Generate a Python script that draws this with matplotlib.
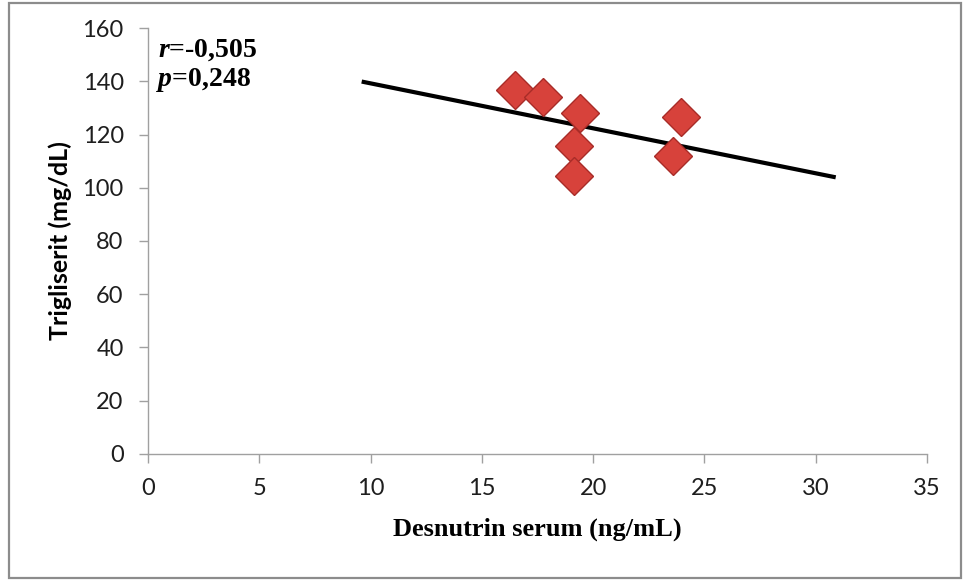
import numpy as np
import matplotlib
matplotlib.use("Agg")
import matplotlib.pyplot as plt
from matplotlib.patches import Rectangle

# Serum desnutrin vs triglyceride measurements
desnutrin = [16.5, 17.75, 19.4, 19.15, 19.15, 23.95, 23.6]
trigliserit = [136.7, 134.0, 128.0, 115.7, 104.4, 126.5, 111.8]
trend_range = [9.6, 30.9]

x_ticks = [0, 5, 10, 15, 20, 25, 30, 35]
y_ticks = [0, 20, 40, 60, 80, 100, 120, 140, 160]

plt.rcParams["mathtext.fontset"] = "custom"
plt.rcParams["mathtext.it"] = "Liberation Serif:italic:bold"
plt.rcParams["mathtext.rm"] = "Liberation Serif:bold"

fig = plt.figure(figsize=(9.65, 5.81), dpi=100)
ax = fig.add_axes([0.1534, 0.2186, 0.8072, 0.7332])

# outer chart border
fig.patches.append(Rectangle((0.009, 0.006), 0.987, 0.988, transform=fig.transFigure,
                             fill=False, edgecolor="#8c8c8c", linewidth=1.6))

# least-squares trend line
slope, intercept = np.polyfit(desnutrin, trigliserit, 1)
tx = np.array(trend_range)
ax.plot(tx, intercept + slope * tx, color="black", linewidth=3, zorder=2, solid_capstyle="butt")

ax.plot(desnutrin, trigliserit, linestyle="none", marker="D", markersize=19,
        markerfacecolor="#d7423b", markeredgecolor="#a82c28", markeredgewidth=1.0, zorder=3)

ax.set_xlim(0, 35)
ax.set_ylim(0, 160)
ax.set_xticks(x_ticks)
ax.set_yticks(y_ticks)

for side in ("top", "right"):
    ax.spines[side].set_visible(False)
for side in ("left", "bottom"):
    ax.spines[side].set_color("#a0a0a0")
    ax.spines[side].set_linewidth(1.0)

ax.tick_params(axis="both", direction="out", length=6.5, width=1.0, color="#a0a0a0",
               labelsize=17, labelcolor="#1e1e1e")
ax.tick_params(axis="x", pad=10.5)
ax.tick_params(axis="y", pad=11)
for lbl in ax.get_xticklabels() + ax.get_yticklabels():
    lbl.set_fontfamily("Lato")

ax.set_xlabel("Desnutrin serum (ng/mL)", fontfamily="Liberation Serif", fontweight="bold",
              fontsize=19)
ax.xaxis.set_label_coords(0.5, -0.15)
ax.set_ylabel("Trigliserit (mg/dL)", fontfamily="Lato", fontweight="bold", fontsize=18)
ax.yaxis.set_label_coords(-0.098, 0.5)

ax.text(0.013, 0.932, r"$\mathit{r}$=-0,505", transform=ax.transAxes, ha="left", va="baseline",
        fontfamily="Liberation Serif", fontweight="bold", fontsize=20)
ax.text(0.010, 0.864, r"$\mathit{p}$=0,248", transform=ax.transAxes, ha="left", va="baseline",
        fontfamily="Liberation Serif", fontweight="bold", fontsize=20)

fig.savefig("out.png", dpi=100, facecolor="white")
